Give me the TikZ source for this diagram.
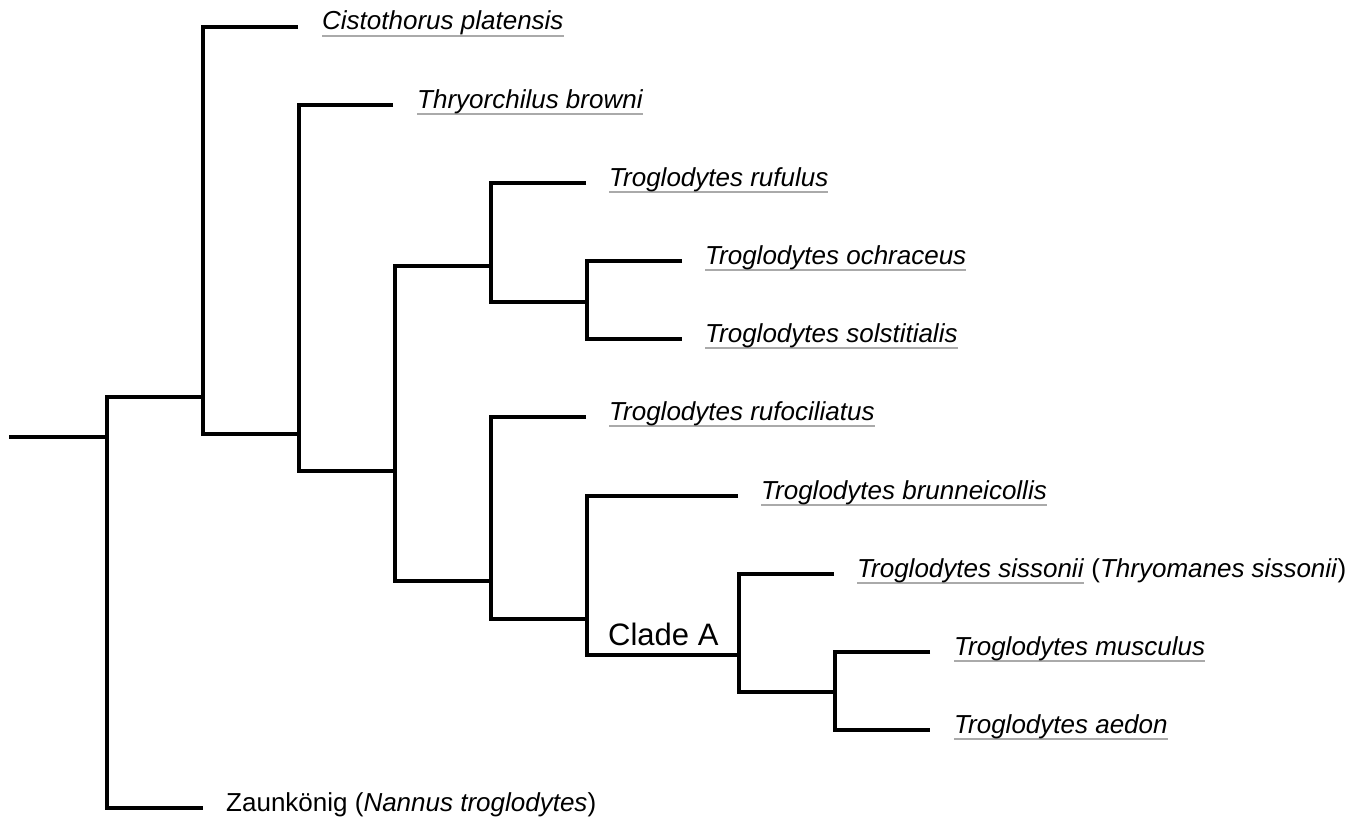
\documentclass[tikz,border=0pt]{standalone}
\usepackage{fontspec}
\setmainfont{Liberation Sans}
\usepackage{tikz}
\usetikzlibrary{positioning}
\definecolor{ulgray}{RGB}{170,170,170}
\newsavebox{\gulbox}
\newcommand{\gul}[1]{\sbox{\gulbox}{#1}\rlap{\color{ulgray}\rule[-7.3pt]{\wd\gulbox}{2.6pt}}\usebox{\gulbox}}
\newcommand{\artname}[1]{\gul{\textit{#1}}}
\tikzset{branch/.style={line width=4pt, black}}
\tikzset{taxon/.style={anchor=base west, inner sep=0pt, font=\fontsize{26}{30}\selectfont}}
\tikzset{cladelabel/.style={anchor=base west, inner sep=0pt, font=\fontsize{31}{36}\selectfont}}

\begin{document}
\begin{tikzpicture}[x=1pt, y=-1pt]
        \useasboundingbox (0,0) rectangle (1361,819);

        % inner nodes of the tree
        \coordinate (root) at (9,437);
        \coordinate (n1) at (107,437);
        \coordinate (n2) at (203,397);
        \coordinate (n3) at (299,434);
        \coordinate (n4) at (395,471);
        \coordinate (n5) at (491,266);
        \coordinate (n6) at (587,302);
        \coordinate (n7) at (491,581);
        \coordinate (n8) at (587,619);
        \coordinate (n9) at (739,655);
        \coordinate (n10) at (835,692);

        % tips
        \coordinate (cisttip) at (298,27);
        \coordinate (thrytip) at (393,105);
        \coordinate (rufutip) at (586,183);
        \coordinate (ochrtip) at (682,261);
        \coordinate (solstip) at (682,339);
        \coordinate (rufotip) at (586,417);
        \coordinate (bruntip) at (738,496);
        \coordinate (sisstip) at (834,574);
        \coordinate (musctip) at (930,652);
        \coordinate (aedotip) at (930,730);
        \coordinate (zauntip) at (203,808);

        \node [taxon](cist) at ([shift={(24,3)}]cisttip) {\artname{Cistothorus platensis}};
        \node [taxon](thry) at ([shift={(24,3)}]thrytip) {\artname{Thryorchilus browni}};
        \node [taxon](rufu) at ([shift={(23,3)}]rufutip) {\artname{Troglodytes rufulus}};
        \node [taxon](ochr) at ([shift={(23,3)}]ochrtip) {\artname{Troglodytes ochraceus}};
        \node [taxon](sols) at ([shift={(23,3)}]solstip) {\artname{Troglodytes solstitialis}};
        \node [taxon](rufo) at ([shift={(23,3)}]rufotip) {\artname{Troglodytes rufociliatus}};
        \node [taxon](brun) at ([shift={(23,3)}]bruntip) {\artname{Troglodytes brunneicollis}};
        \node [taxon](siss) at ([shift={(23,3)}]sisstip) {\artname{Troglodytes sissonii} (\textit{Thryomanes sissonii})};
        \node [taxon](musc) at ([shift={(24,3)}]musctip) {\artname{Troglodytes musculus}};
        \node [taxon](aedo) at ([shift={(24,3)}]aedotip) {\artname{Troglodytes aedon}};
        \node [taxon](zaun) at ([shift={(23,3)}]zauntip) {Zaunkönig (\textit{Nannus troglodytes})};
        \node [cladelabel](cladeA) at (608,645) {Clade A};

        \draw [branch] (root) -- (n1);
        \draw [branch] (n2) -| (n1) |- (zauntip);
        \draw [branch] (cisttip) -| (n2) |- (n3);
        \draw [branch] (thrytip) -| (n3) |- (n4);
        \draw [branch] (n5) -| (n4) |- (n7);
        \draw [branch] (rufutip) -| (n5) |- (n6);
        \draw [branch] (ochrtip) -| (n6) |- (solstip);
        \draw [branch] (rufotip) -| (n7) |- (n8);
        \draw [branch] (bruntip) -| (n8) |- (n9);
        \draw [branch] (sisstip) -| (n9) |- (n10);
        \draw [branch] (musctip) -| (n10) |- (aedotip);
\end{tikzpicture}
\end{document}
